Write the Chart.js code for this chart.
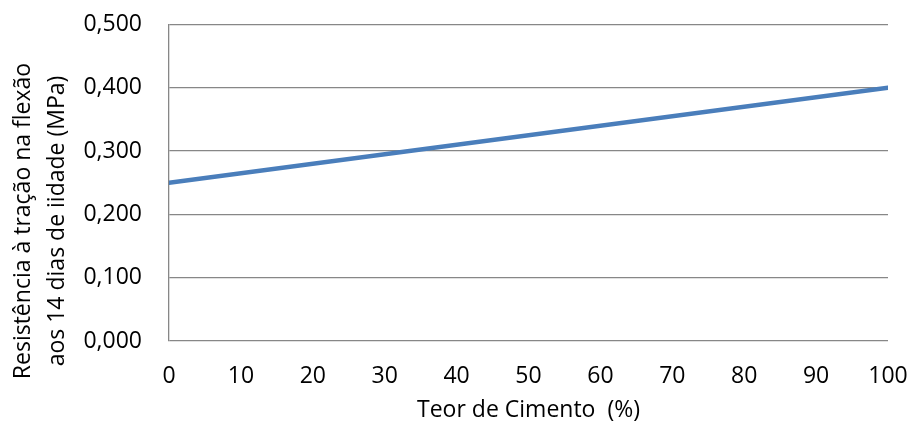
<!DOCTYPE html>
<html>
<head>
<meta charset="utf-8">
<script src="https://cdn.jsdelivr.net/npm/chart.js@4/dist/chart.umd.min.js"></script>
<style>
  html, body { margin: 0; padding: 0; background: #ffffff; }
  #wrap { width: 908px; height: 426px; }
</style>
</head>
<body>
<div id="wrap"><canvas id="c" width="908" height="426"></canvas></div>
<script>
const teorCimento = [0, 100];
const resistencia = [0.250, 0.400];
const yTicks = [0, 0.1, 0.2, 0.3, 0.4, 0.5];
const xTicks = [0, 10, 20, 30, 40, 50, 60, 70, 80, 90, 100];
const yTitle = ['Resistência à tração na flexão', 'aos 14 dias de iidade (MPa)'];
const xTitle = 'Teor de Cimento  (%)';

const FONT = "'Open Sans', 'Liberation Sans', sans-serif";
const FSIZE = 23;
const GRID = '#878787';

const yTitlePlugin = {
  id: 'yTitle',
  afterDraw(chart) {
    const ctx = chart.ctx;
    ctx.save();
    ctx.fillStyle = '#000';
    ctx.font = FSIZE + 'px ' + FONT;
    ctx.textAlign = 'center';
    ctx.textBaseline = 'middle';
    ctx.translate(23, 221);
    ctx.rotate(-Math.PI / 2);
    yTitle.forEach((line, i) => ctx.fillText(line, 0, i * 34));
    ctx.restore();
  }
};

new Chart(document.getElementById('c'), {
  type: 'line',
  data: {
    datasets: [{
      data: teorCimento.map((x, i) => ({ x: x, y: resistencia[i] })),
      borderColor: '#4a7ebb',
      borderWidth: 4.5,
      borderCapStyle: 'round',
      pointRadius: 0,
      fill: false,
      tension: 0
    }]
  },
  plugins: [yTitlePlugin],
  options: {
    responsive: false,
    animation: false,
    devicePixelRatio: 1,
    layout: { padding: 0 },
    plugins: { legend: { display: false }, tooltip: { enabled: false } },
    scales: {
      x: {
        type: 'linear',
        min: 0, max: 100,
        afterBuildTicks: s => { s.ticks = xTicks.map(v => ({ value: v })); },
        afterFit: s => { s.height = 85; s.paddingRight = 20; s.paddingLeft = 0; },
        grid: { display: false, drawTicks: false },
        border: { display: false },
        ticks: { color: '#000', padding: 22, font: { family: FONT, size: FSIZE }, maxRotation: 0 },
        title: { display: true, text: xTitle, color: '#000', font: { family: FONT, size: FSIZE }, padding: { top: 0, bottom: 2 } }
      },
      y: {
        min: 0, max: 0.5,
        afterBuildTicks: s => { s.ticks = yTicks.map(v => ({ value: v })); },
        afterFit: s => { s.width = 169; s.paddingTop = 24.5; s.paddingBottom = 0; },
        grid: { color: GRID, lineWidth: 1.3, drawTicks: false },
        border: { display: true, color: GRID, width: 1.3 },
        ticks: {
          color: '#000', padding: 27, font: { family: FONT, size: FSIZE },
          callback: v => v.toFixed(3).replace('.', ',')
        },
        title: { display: false }
      }
    }
  }
});
</script>
</body>
</html>
